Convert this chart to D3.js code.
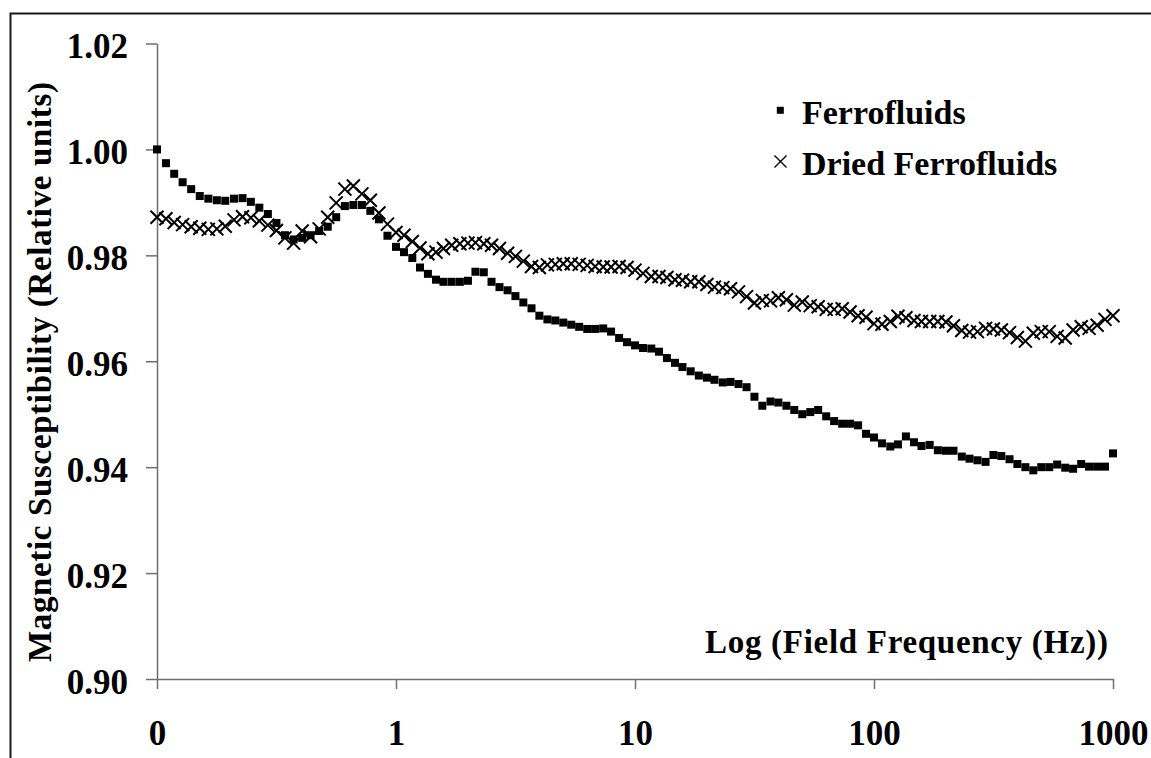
<!DOCTYPE html>
<html>
<head>
<meta charset="utf-8">
<script src="https://cdn.jsdelivr.net/npm/d3@7"></script>
<style>
  body { margin: 0; background: #fff; }
</style>
</head>
<body>
<div id="chart"></div>
<script>
/* data */
var freq = [
  0.1, 0.109, 0.118, 0.128, 0.139, 0.151, 0.164, 0.178, 0.193, 0.210, 0.228, 0.247, 0.268, 0.291,
  0.316, 0.343, 0.373, 0.405, 0.439, 0.477, 0.518, 0.562, 0.611, 0.663, 0.720, 0.781, 0.848, 0.921,
  1.00, 1.08, 1.17, 1.26, 1.36, 1.47, 1.58, 1.71, 1.85, 2.00, 2.15, 2.33, 2.51, 2.71, 2.93,
  3.16, 3.41, 3.69, 3.98, 4.30, 4.64, 5.01, 5.41, 5.84, 6.31, 6.81, 7.36, 7.94, 8.58, 9.26,
  10.0, 10.8, 11.7, 12.6, 13.6, 14.7, 15.8, 17.1, 18.5, 20.0, 21.5, 23.3, 25.1, 27.1, 29.3,
  31.6, 34.1, 36.9, 39.8, 43.0, 46.4, 50.1, 54.1, 58.4, 63.1, 68.1, 73.6, 79.4, 85.8, 92.6,
  100, 108, 117, 126, 136, 147, 158, 171, 185, 200, 215, 233, 251, 271, 293,
  316, 341, 369, 398, 430, 464, 501, 541, 584, 631, 681, 736, 794, 858, 926,
  1000
];

var ferrofluids = [
  1.0000, 0.9974, 0.9954, 0.9938, 0.9925, 0.9912, 0.9907, 0.9904, 0.9903, 0.9907, 0.9908, 0.9901, 0.9890, 0.9878,
  0.9861, 0.9838, 0.9830, 0.9833, 0.9838, 0.9846, 0.9854, 0.9872, 0.9893, 0.9895, 0.9895, 0.9884, 0.9868, 0.9837,
  0.9816, 0.9806, 0.9795, 0.9777, 0.9765, 0.9754, 0.9750, 0.9750, 0.9750, 0.9752, 0.9769, 0.9768, 0.9750, 0.9740, 0.9734,
  0.9723, 0.9711, 0.9700, 0.9686, 0.9679, 0.9677, 0.9673, 0.9669, 0.9665, 0.9661, 0.9661, 0.9662, 0.9656, 0.9644, 0.9636,
  0.9630, 0.9625, 0.9624, 0.9618, 0.9606, 0.9597, 0.9589, 0.9581, 0.9573, 0.9569, 0.9565, 0.9560, 0.9561, 0.9557, 0.9551,
  0.9533, 0.9516, 0.9524, 0.9522, 0.9516, 0.9508, 0.9500, 0.9504, 0.9508, 0.9496, 0.9487, 0.9482, 0.9482, 0.9479, 0.9463,
  0.9456, 0.9445, 0.9439, 0.9443, 0.9458, 0.9447, 0.9440, 0.9442, 0.9432, 0.9431, 0.9431, 0.9420, 0.9416, 0.9413, 0.9410,
  0.9423, 0.9421, 0.9415, 0.9406, 0.9400, 0.9394, 0.9400, 0.9400, 0.9405, 0.9399, 0.9397, 0.9406, 0.9401, 0.9401, 0.9401,
  0.9426
];

var driedFerrofluids = [
  0.9872, 0.9869, 0.9862, 0.9858, 0.9854, 0.9851, 0.9849, 0.9850, 0.9855, 0.9867, 0.9873, 0.9871, 0.9865, 0.9857,
  0.9847, 0.9833, 0.9823, 0.9846, 0.9835, 0.9850, 0.9872, 0.9899, 0.9925, 0.9931, 0.9916, 0.9904, 0.9880, 0.9859,
  0.9843, 0.9838, 0.9826, 0.9814, 0.9803, 0.9806, 0.9813, 0.9819, 0.9822, 0.9823, 0.9824, 0.9822, 0.9819, 0.9813, 0.9804,
  0.9798, 0.9789, 0.9779, 0.9777, 0.9782, 0.9783, 0.9784, 0.9784, 0.9783, 0.9781, 0.9779, 0.9778, 0.9778, 0.9779, 0.9777,
  0.9772, 0.9766, 0.9760, 0.9760, 0.9758, 0.9754, 0.9753, 0.9750, 0.9750, 0.9745, 0.9740, 0.9739, 0.9737, 0.9731, 0.9722,
  0.9710, 0.9715, 0.9714, 0.9720, 0.9716, 0.9706, 0.9712, 0.9705, 0.9703, 0.9698, 0.9698, 0.9699, 0.9693, 0.9686, 0.9683,
  0.9671, 0.9670, 0.9675, 0.9685, 0.9682, 0.9677, 0.9675, 0.9675, 0.9675, 0.9674, 0.9667, 0.9658, 0.9655, 0.9656, 0.9662,
  0.9661, 0.9659, 0.9654, 0.9645, 0.9638, 0.9653, 0.9656, 0.9656, 0.9647, 0.9644, 0.9659, 0.9665, 0.9662, 0.9668, 0.9679,
  0.9686
];

var xTicks = [0.1, 1, 10, 100, 1000];
var xTickLabels = ["0", "1", "10", "100", "1000"];
var yTicks = [0.90, 0.92, 0.94, 0.96, 0.98, 1.00, 1.02];
var seriesNames = ["Ferrofluids", "Dried Ferrofluids"];

var serif = "'Liberation Serif', 'Times New Roman', Times, 'DejaVu Serif', serif";

/* drawing surface */
var svg = d3.select("#chart").append("svg")
    .attr("width", 1151)
    .attr("height", 758);

svg.append("rect") // chart frame, runs off the right and bottom edges
    .attr("x", 10.5).attr("y", 13.5)
    .attr("width", 1300).attr("height", 900)
    .attr("fill", "none")
    .attr("stroke", "#1a1a1a")
    .attr("stroke-width", 2);

var x = d3.scaleLog().domain([0.1, 1000]).range([157, 1113]);
var y = d3.scaleLinear().domain([0.90, 1.02]).range([679, 43.5]);

/* axes */
var xAxis = svg.append("g")
    .attr("transform", "translate(0,679)")
    .call(d3.axisBottom(x)
        .tickValues(xTicks)
        .tickFormat(function(d, i){ return xTickLabels[i]; })
        .tickSize(10)
        .tickSizeOuter(0));

var yAxis = svg.append("g")
    .attr("transform", "translate(157,0)")
    .call(d3.axisLeft(y)
        .tickValues(yTicks)
        .tickFormat(d3.format(".2f"))
        .tickSize(11)
        .tickSizeOuter(0));

svg.selectAll(".domain, .tick line")
    .attr("stroke", "#6e6e6e")
    .attr("stroke-width", 1.5);

xAxis.selectAll("text")
    .attr("y", 66).attr("dy", 0);

yAxis.selectAll("text")
    .attr("x", -29).attr("dy", "0.4em");

svg.selectAll(".tick text")
    .attr("fill", "#000")
    .attr("font-family", serif)
    .attr("font-weight", "bold")
    .attr("font-size", 35);

/* axis titles */
svg.append("text")
    .attr("transform", "translate(51,372) rotate(-90)")
    .attr("text-anchor", "middle")
    .attr("textLength", 580)
    .attr("lengthAdjust", "spacing")
    .attr("font-family", serif)
    .attr("font-weight", "bold")
    .attr("font-size", 33)
    .text("Magnetic Susceptibility (Relative units)");

svg.append("text")
    .attr("x", 705).attr("y", 653)
    .attr("textLength", 403)
    .attr("lengthAdjust", "spacing")
    .attr("font-family", serif)
    .attr("font-weight", "bold")
    .attr("font-size", 33)
    .text("Log (Field Frequency (Hz))");

/* markers */
var crossPath = function(h){ return "M" + (-h) + "," + (-h) + "L" + h + "," + h + "M" + (-h) + "," + h + "L" + h + "," + (-h); };

svg.append("g").selectAll("rect")
    .data(ferrofluids)
    .enter()
    .append("rect")
    .attr("x", function(d, i){ return x(freq[i]) - 4; })
    .attr("y", function(d){ return y(d) - 4; })
    .attr("width", 8)
    .attr("height", 8)
    .attr("fill", "#000");

svg.append("g").selectAll("path")
    .data(driedFerrofluids)
    .enter()
    .append("path")
    .attr("transform", function(d, i){ return "translate(" + x(freq[i]) + "," + y(d) + ")"; })
    .attr("d", crossPath(6.5))
    .attr("fill", "none")
    .attr("stroke", "#000")
    .attr("stroke-width", 2);

/* legend */
var legend = svg.append("g");
legend.append("rect")
    .attr("x", 776.8).attr("y", 106.8)
    .attr("width", 7).attr("height", 7)
    .attr("fill", "#000");
legend.append("path")
    .attr("transform", "translate(780.5,161.5)")
    .attr("d", crossPath(6))
    .attr("fill", "none")
    .attr("stroke", "#000")
    .attr("stroke-width", 1.4);
legend.selectAll("text")
    .data(seriesNames)
    .enter()
    .append("text")
    .attr("x", 802)
    .attr("y", function(d, i){ return 123.5 + 51.5 * i; })
    .attr("font-family", serif)
    .attr("font-weight", "bold")
    .attr("font-size", 34)
    .text(function(d){ return d; });
</script>
</body>
</html>
